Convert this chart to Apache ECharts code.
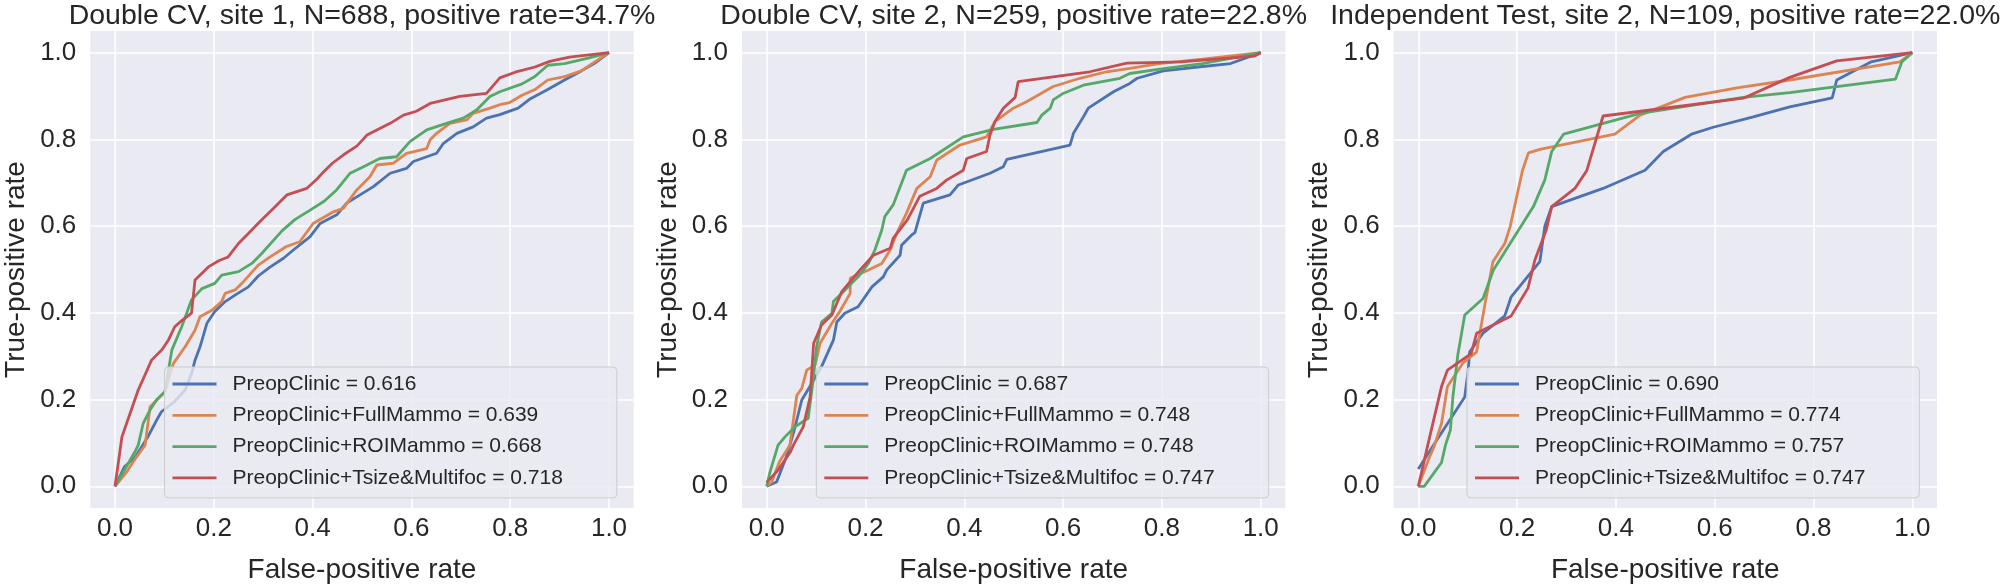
<!DOCTYPE html>
<html>
<head>
<meta charset="utf-8">
<script src="https://cdn.jsdelivr.net/npm/echarts@6/dist/echarts.min.js"></script>
<style>
  html, body { margin: 0; padding: 0; background: #ffffff; }
  #chart { width: 2000px; height: 585px; }
</style>
</head>
<body>
<div id="chart"></div>
<script>
// ---------- data ----------
const panelTitles = [
  'Double CV, site 1, N=688, positive rate=34.7%',
  'Double CV, site 2, N=259, positive rate=22.8%',
  'Independent Test, site 2, N=109, positive rate=22.0%'
];
const modelNames = ['PreopClinic', 'PreopClinic+FullMammo', 'PreopClinic+ROIMammo', 'PreopClinic+Tsize&Multifoc'];
const aucSite1 = ['0.616', '0.639', '0.668', '0.718'];
const aucSite2 = ['0.687', '0.748', '0.748', '0.747'];
const aucTest = ['0.690', '0.774', '0.757', '0.747'];
const tickValues = [0, 0.2, 0.4, 0.6, 0.8, 1.0];
const xAxisTitle = 'False-positive rate';
const yAxisTitle = 'True-positive rate';

// ROC curves: [false-positive rate, true-positive rate]
const site1Clinic = [[0,0],[0.019,0.045],[0.04,0.066],[0.067,0.115],[0.083,0.15],[0.094,0.172],[0.12,0.195],[0.142,0.222],[0.155,0.26],[0.162,0.291],[0.172,0.321],[0.186,0.376],[0.202,0.403],[0.223,0.426],[0.243,0.441],[0.27,0.46],[0.29,0.485],[0.313,0.505],[0.341,0.526],[0.361,0.545],[0.395,0.576],[0.415,0.606],[0.449,0.626],[0.469,0.653],[0.496,0.672],[0.523,0.691],[0.557,0.722],[0.59,0.733],[0.604,0.749],[0.651,0.768],[0.665,0.791],[0.692,0.814],[0.725,0.829],[0.752,0.849],[0.779,0.857],[0.816,0.872],[0.841,0.894],[0.876,0.915],[0.91,0.937],[0.944,0.958],[0.97,0.975],[1,1]];
const site1Full = [[0,0],[0.023,0.032],[0.04,0.062],[0.061,0.095],[0.071,0.183],[0.081,0.195],[0.101,0.218],[0.118,0.283],[0.142,0.322],[0.162,0.36],[0.172,0.391],[0.196,0.406],[0.216,0.426],[0.223,0.445],[0.243,0.453],[0.26,0.472],[0.29,0.51],[0.314,0.529],[0.347,0.553],[0.374,0.564],[0.401,0.606],[0.442,0.633],[0.462,0.641],[0.489,0.683],[0.516,0.714],[0.53,0.741],[0.563,0.745],[0.59,0.768],[0.631,0.779],[0.638,0.799],[0.651,0.814],[0.678,0.837],[0.712,0.845],[0.725,0.86],[0.759,0.872],[0.779,0.88],[0.799,0.885],[0.824,0.902],[0.85,0.915],[0.876,0.937],[0.91,0.945],[0.944,0.958],[0.978,0.984],[1,1]];
const site1ROI = [[0,0],[0.023,0.045],[0.04,0.079],[0.047,0.095],[0.057,0.145],[0.071,0.176],[0.084,0.199],[0.101,0.218],[0.115,0.314],[0.135,0.368],[0.145,0.399],[0.155,0.43],[0.176,0.456],[0.202,0.468],[0.216,0.487],[0.25,0.495],[0.277,0.514],[0.297,0.537],[0.338,0.589],[0.364,0.615],[0.395,0.637],[0.424,0.658],[0.449,0.684],[0.476,0.722],[0.5,0.735],[0.536,0.756],[0.57,0.76],[0.597,0.795],[0.631,0.822],[0.671,0.837],[0.705,0.849],[0.732,0.868],[0.759,0.899],[0.779,0.91],[0.824,0.928],[0.85,0.945],[0.876,0.971],[0.91,0.975],[0.96,0.988],[1,1]];
const site1Tsize = [[0,0],[0.005,0.04],[0.014,0.114],[0.025,0.15],[0.047,0.222],[0.06,0.255],[0.074,0.291],[0.095,0.315],[0.108,0.337],[0.121,0.368],[0.135,0.382],[0.148,0.393],[0.155,0.4],[0.162,0.476],[0.189,0.506],[0.21,0.52],[0.229,0.529],[0.25,0.56],[0.27,0.583],[0.293,0.61],[0.32,0.64],[0.348,0.672],[0.388,0.687],[0.41,0.71],[0.422,0.725],[0.44,0.745],[0.462,0.764],[0.49,0.785],[0.51,0.81],[0.557,0.837],[0.584,0.856],[0.61,0.865],[0.638,0.883],[0.698,0.899],[0.752,0.906],[0.779,0.942],[0.81,0.955],[0.85,0.967],[0.88,0.98],[0.92,0.99],[0.96,0.995],[1,1]];

const site2Clinic = [[0,0],[0.02,0.01],[0.039,0.066],[0.047,0.095],[0.057,0.135],[0.071,0.199],[0.091,0.237],[0.111,0.276],[0.135,0.337],[0.142,0.379],[0.158,0.399],[0.185,0.414],[0.213,0.46],[0.236,0.483],[0.243,0.499],[0.27,0.533],[0.273,0.556],[0.293,0.579],[0.3,0.585],[0.317,0.653],[0.371,0.672],[0.388,0.695],[0.452,0.722],[0.479,0.737],[0.486,0.754],[0.614,0.787],[0.621,0.814],[0.641,0.852],[0.651,0.872],[0.702,0.91],[0.735,0.929],[0.75,0.941],[0.803,0.958],[0.873,0.967],[0.939,0.975],[1,1]];
const site2Full = [[0,0],[0.01,0.01],[0.026,0.057],[0.047,0.095],[0.061,0.21],[0.071,0.226],[0.081,0.268],[0.098,0.28],[0.108,0.33],[0.132,0.376],[0.148,0.403],[0.169,0.445],[0.169,0.48],[0.182,0.487],[0.206,0.499],[0.233,0.514],[0.25,0.545],[0.263,0.583],[0.283,0.63],[0.304,0.687],[0.331,0.714],[0.344,0.752],[0.391,0.787],[0.445,0.806],[0.462,0.841],[0.499,0.872],[0.526,0.887],[0.58,0.922],[0.634,0.941],[0.688,0.956],[0.735,0.964],[0.794,0.975],[0.882,0.985],[1,1]];
const site2ROI = [[0,0],[0.006,0.03],[0.013,0.057],[0.023,0.095],[0.037,0.114],[0.057,0.137],[0.084,0.157],[0.094,0.245],[0.101,0.322],[0.111,0.379],[0.132,0.399],[0.135,0.426],[0.152,0.445],[0.185,0.483],[0.206,0.514],[0.219,0.545],[0.233,0.591],[0.239,0.622],[0.256,0.649],[0.283,0.729],[0.331,0.756],[0.398,0.806],[0.459,0.823],[0.547,0.839],[0.557,0.856],[0.574,0.872],[0.58,0.891],[0.6,0.906],[0.641,0.925],[0.715,0.941],[0.735,0.952],[0.803,0.963],[0.882,0.975],[1,1]];
const site2Tsize = [[0,0.009],[0.022,0.036],[0.048,0.079],[0.054,0.095],[0.074,0.137],[0.088,0.207],[0.095,0.33],[0.111,0.372],[0.132,0.395],[0.152,0.449],[0.189,0.499],[0.216,0.533],[0.25,0.549],[0.256,0.572],[0.285,0.615],[0.31,0.669],[0.344,0.687],[0.364,0.706],[0.398,0.729],[0.405,0.756],[0.445,0.772],[0.452,0.81],[0.462,0.841],[0.479,0.872],[0.503,0.897],[0.509,0.933],[0.654,0.956],[0.729,0.976],[0.838,0.979],[0.987,0.992],[1,1]];

const testClinic = [[0,0.04],[0.033,0.099],[0.094,0.206],[0.101,0.268],[0.104,0.31],[0.131,0.353],[0.175,0.393],[0.188,0.437],[0.246,0.518],[0.256,0.599],[0.27,0.645],[0.374,0.687],[0.459,0.729],[0.496,0.772],[0.553,0.812],[0.597,0.828],[0.678,0.852],[0.752,0.875],[0.838,0.896],[0.847,0.937],[0.917,0.979],[1,1]];
const testFull = [[0,0],[0.02,0.06],[0.033,0.095],[0.047,0.145],[0.059,0.23],[0.09,0.284],[0.118,0.31],[0.134,0.414],[0.151,0.518],[0.175,0.56],[0.186,0.599],[0.211,0.729],[0.223,0.769],[0.246,0.777],[0.398,0.812],[0.449,0.856],[0.54,0.897],[0.645,0.919],[0.752,0.937],[0.975,0.979],[1,1]];
const testROI = [[0,0],[0.012,0],[0.047,0.055],[0.055,0.095],[0.065,0.13],[0.07,0.206],[0.08,0.303],[0.094,0.395],[0.131,0.433],[0.152,0.499],[0.233,0.645],[0.256,0.706],[0.27,0.772],[0.294,0.812],[0.449,0.86],[0.658,0.897],[0.752,0.908],[0.966,0.939],[0.979,0.979],[1,1]];
const testTsize = [[0,0],[0.02,0.099],[0.047,0.23],[0.059,0.268],[0.107,0.306],[0.118,0.353],[0.188,0.393],[0.222,0.457],[0.236,0.522],[0.259,0.591],[0.27,0.645],[0.317,0.687],[0.341,0.728],[0.374,0.854],[0.658,0.895],[0.752,0.943],[0.847,0.981],[1,1]];

// ---------- layout / style ----------
const FONT = '"Liberation Sans", Arial, sans-serif';
const TXT = '#262626';
const colors = ['#4C72B0', '#DD8452', '#55A868', '#C44E52'];
const gridLefts = [90.3, 742, 1393.6];
const gridTop = 31, gridW = 543.4, gridH = 477;
const legendLefts = [164.5, 816.3, 1467];

const panels = [
  { auc: aucSite1, curves: [site1Clinic, site1Full, site1ROI, site1Tsize] },
  { auc: aucSite2, curves: [site2Clinic, site2Full, site2ROI, site2Tsize] },
  { auc: aucTest, curves: [testClinic, testFull, testROI, testTsize] }
];

const grids = [], xAxes = [], yAxes = [], series = [], legends = [], titles = [];
panels.forEach((p, i) => {
  grids.push({ left: gridLefts[i], top: gridTop, width: gridW, height: gridH,
    show: true, backgroundColor: '#EAEAF2', borderWidth: 0, containLabel: false,
    outerBoundsMode: 'none' });
  const axisCommon = {
    type: 'value', gridIndex: i, min: -0.05, max: 1.05,
    axisLine: { show: false },
    axisTick: { show: false, customValues: tickValues },
    splitLine: { show: true, lineStyle: { color: '#ffffff', width: 1.5 } },
    nameLocation: 'middle',
    nameTextStyle: { fontSize: 28, color: TXT, fontFamily: FONT }
  };
  xAxes.push(Object.assign({}, axisCommon, {
    name: xAxisTitle, nameGap: 48,
    axisLabel: { customValues: tickValues, formatter: v => v.toFixed(1), fontSize: 26, color: TXT, fontFamily: FONT, margin: 8 }
  }));
  yAxes.push(Object.assign({}, axisCommon, {
    name: yAxisTitle, nameGap: 60,
    axisLabel: { customValues: tickValues, formatter: v => v.toFixed(1), fontSize: 26, color: TXT, fontFamily: FONT, margin: 14 }
  }));
  const names = [];
  p.curves.forEach((c, k) => {
    const nm = modelNames[k] + ' = ' + p.auc[k];
    names.push(nm);
    series.push({
      type: 'line', name: nm, xAxisIndex: i, yAxisIndex: i,
      data: c, symbol: 'none', showSymbol: false, clip: false,
      lineStyle: { width: 2.8, color: colors[k] }, itemStyle: { color: colors[k] },
      z: 2 + k
    });
  });
  legends.push({
    data: names, orient: 'vertical', left: legendLefts[i], top: 367,
    padding: [5, 54, 8, 8], itemGap: 7.3, itemWidth: 44, itemHeight: 2.8, icon: 'rect',
    backgroundColor: 'rgba(234,234,242,0.8)', borderColor: '#cccccc', borderWidth: 1, borderRadius: 4,
    textStyle: { fontSize: 21, color: TXT, fontFamily: FONT, lineHeight: 24, padding: [0, 0, 0, 11] },
    selectedMode: false, z: 10
  });
  titles.push({
    text: panelTitles[i], left: gridLefts[i] + gridW / 2, top: 2, textAlign: 'center', padding: 0,
    textStyle: { fontSize: 28.5, fontWeight: 'normal', color: TXT, fontFamily: FONT }
  });
});

const chart = echarts.init(document.getElementById('chart'), null, { renderer: 'canvas' });
chart.setOption({
  animation: false,
  backgroundColor: '#ffffff',
  title: titles,
  grid: grids,
  xAxis: xAxes,
  yAxis: yAxes,
  legend: legends,
  series: series
});
</script>
</body>
</html>
